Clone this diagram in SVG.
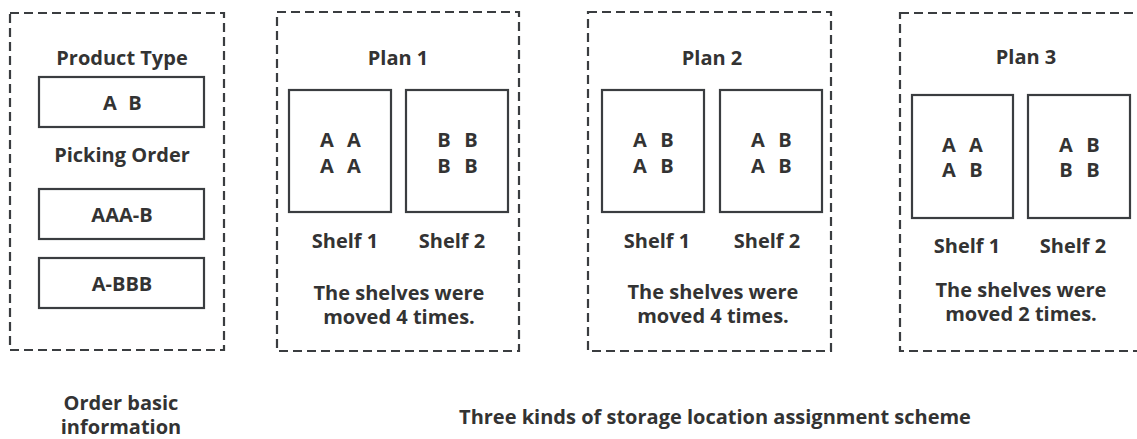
<svg xmlns="http://www.w3.org/2000/svg" width="1137" height="439" viewBox="0 0 1137 439">
<style>
.dash{fill:none;stroke:#3a3d40;stroke-width:2.2;stroke-dasharray:9 5}
.box{fill:#fff;stroke:#3a3d40;stroke-width:2.2}
text{font-family:"Open Sans","Noto Sans",sans-serif;font-weight:bold;fill:#333;text-anchor:middle;font-size:20px}
.s{font-size:19px}
</style>
<rect width="1137" height="439" fill="#fff"/>
<g id="order-info">
<rect class="dash" x="10" y="13" width="214" height="337"/>
<text x="122" y="65">Product Type</text>
<rect class="box" x="39" y="77" width="165" height="50"/>
<text x="110 135" y="110">AB</text>
<text x="122" y="162">Picking Order</text>
<rect class="box" x="39" y="189" width="165" height="50"/>
<text x="122" y="222">AAA-B</text>
<rect class="box" x="39" y="258" width="165" height="50"/>
<text x="122" y="291">A-BBB</text>
</g>
<g id="plan1">
<rect class="dash" x="277" y="12" width="242" height="339"/>
<text x="398" y="65">Plan 1</text>
<rect class="box" x="289" y="90" width="102" height="122"/>
<rect class="box" x="406" y="90" width="102" height="122"/>
<text x="327 354" y="147">AA</text>
<text x="327 354" y="173">AA</text>
<text x="444 471" y="147">BB</text>
<text x="444 471" y="173">BB</text>
<text x="345" y="248">Shelf 1</text>
<text x="452" y="248">Shelf 2</text>
<text x="399" y="300">The shelves were<tspan x="399" dy="24">moved 4 times.</tspan></text>
</g>
<g id="plan2">
<rect class="dash" x="588" y="12" width="243" height="339"/>
<text x="712" y="65">Plan 2</text>
<rect class="box" x="602" y="90" width="102" height="122"/>
<rect class="box" x="720" y="90" width="102" height="122"/>
<text x="640 667" y="147">AB</text>
<text x="640 667" y="173">AB</text>
<text x="758 785" y="147">AB</text>
<text x="758 785" y="173">AB</text>
<text x="657" y="248">Shelf 1</text>
<text x="767" y="248">Shelf 2</text>
<text x="713" y="299">The shelves were<tspan x="713" dy="24">moved 4 times.</tspan></text>
</g>
<g id="plan3">
<rect class="dash" x="900" y="13" width="260" height="338"/>
<text x="1026" y="64">Plan 3</text>
<rect class="box" x="912" y="95" width="101" height="123"/>
<rect class="box" x="1028" y="95" width="102" height="123"/>
<text x="949 976" y="152">AA</text>
<text x="949 976" y="177">AB</text>
<text x="1066 1093" y="152">AB</text>
<text x="1066 1093" y="177">BB</text>
<text x="967" y="253">Shelf 1</text>
<text x="1073" y="253">Shelf 2</text>
<text x="1021" y="297">The shelves were<tspan x="1021" dy="24">moved 2 times.</tspan></text>
</g>
<g id="captions">
<text x="121" y="410">Order basic<tspan x="121" dy="24">information</tspan></text>
<text x="715" y="424">Three kinds of storage location assignment scheme</text>
</g>
<g id="connectors"></g>
</svg>
